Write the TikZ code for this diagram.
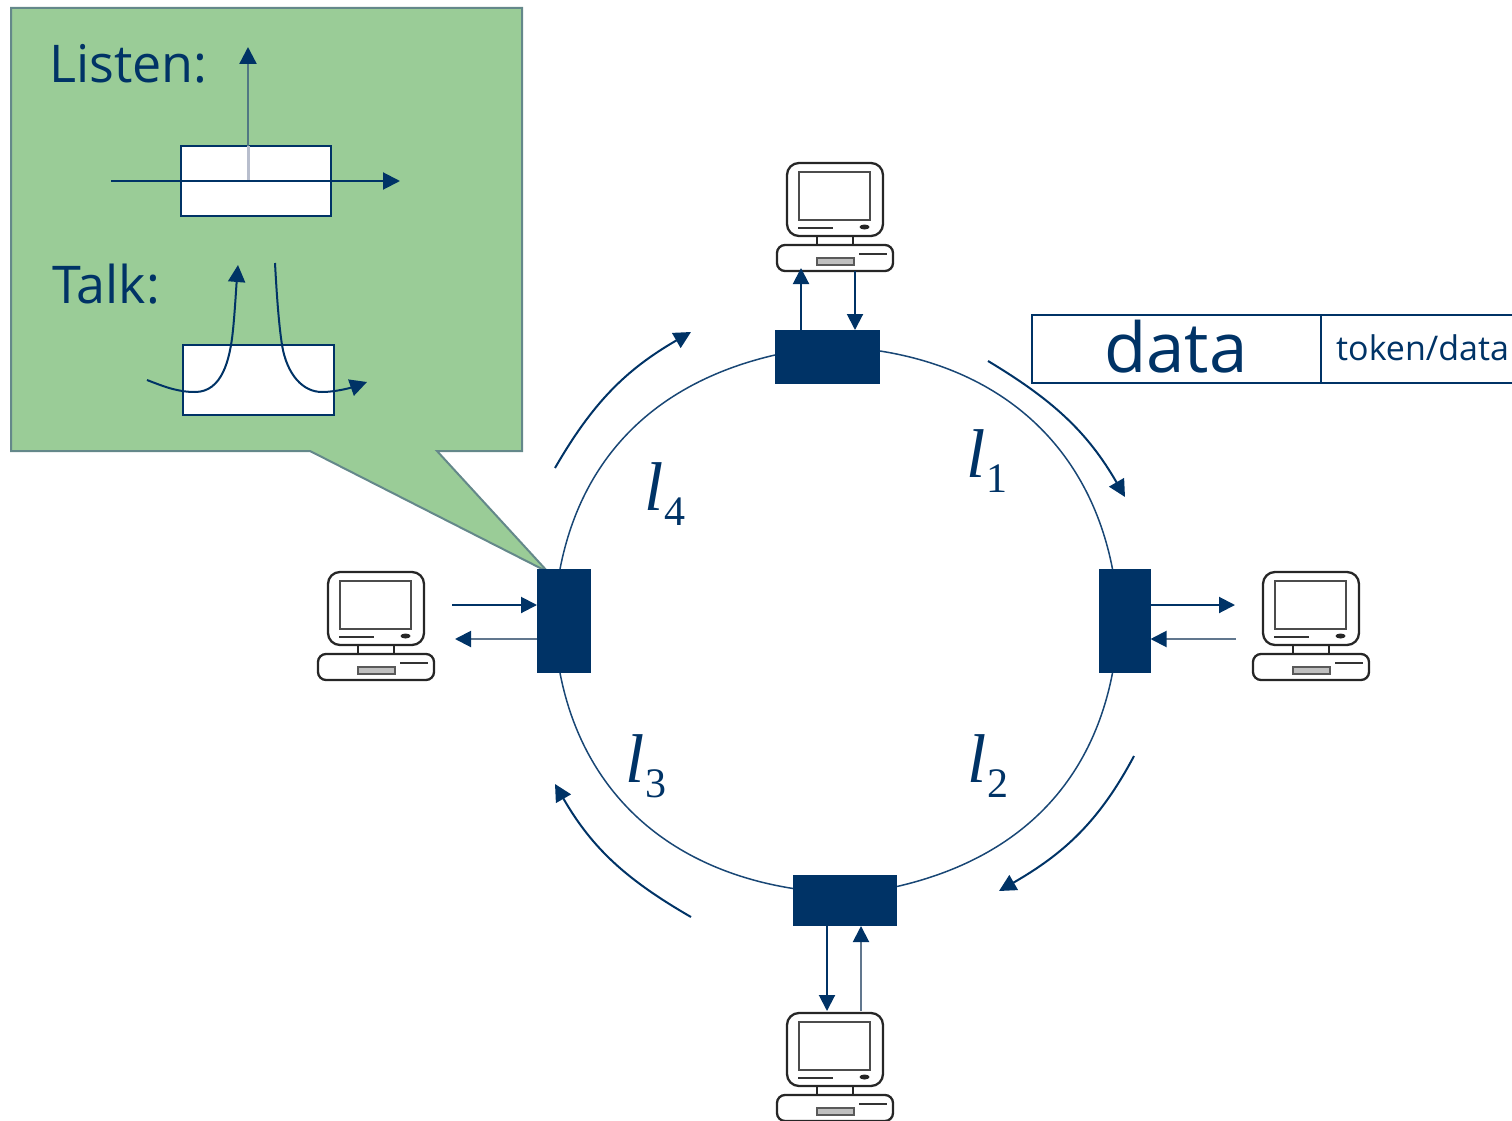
\documentclass[tikz,border=0pt]{standalone}
\usepackage{fontspec}
\setmainfont{Open Sans}
\newfontfamily\timesfont{Liberation Serif}
\usetikzlibrary{arrows.meta}
\definecolor{navy}{HTML}{003366}
\definecolor{calloutfill}{HTML}{9ACC97}
\definecolor{calloutedge}{HTML}{64888A}
\newcommand{\ringlabel}[2]{{\timesfont\color{navy}\fontsize{69}{69}\selectfont\textit{#1}\kern1pt\raisebox{-15pt}{\fontsize{42}{42}\selectfont #2}}}
\tikzset{
  x=1pt,y=1pt,
  link/.style={navy,line width=2pt,-{Triangle[length=16pt,width=16pt,color=navy]}},
  softlink/.style={link,draw=navy!55!gray!80},
  ringline/.style={navy!90,line width=1.5pt},
  flow/.style={navy,line width=2pt,-{Triangle[length=17pt,width=17pt,color=navy]}},
  port/.style={fill=navy,draw=none,minimum width=#1,inner sep=0pt,outer sep=0pt},
  cell/.style={draw=navy,line width=2pt,fill=white,inner sep=0pt,outer sep=0pt},
  caption/.style={text=navy,inner sep=0pt,anchor=base west},
  pcline/.style={black!85,line width=2.3pt},
  pics/computer/.style={code={
    \draw[pcline,rounded corners=12pt] (0,0) rectangle (96,-73);
    \draw[black!70,line width=2.2pt] (12,-9) rectangle (83,-57);
    \draw[black!80,line width=2pt] (11,-65) -- (46,-65);
    \fill[black!85] (77.5,-64) ellipse (5pt and 2.5pt);
    \draw[pcline] (30,-73) -- (30,-82) (66,-73) -- (66,-82);
    \draw[pcline,rounded corners=8pt] (-10,-82) rectangle (106,-108);
    \draw[black!80,line width=2pt] (72,-91) -- (100,-91);
    \draw[black!65,fill=black!25,line width=1.6pt] (30,-95) rectangle (67,-102);
  }}
}
\begin{document}
\begin{tikzpicture}
\useasboundingbox (0,0) rectangle (1512,-1121);

% Ring ports
\node[port=105pt,minimum height=54pt] (top) at (827.5,-357) {};
\node[port=52pt,minimum height=104pt] (right) at (1124.5,-621) {};
\node[port=104pt,minimum height=51pt] (bottom) at (845,-900.5) {};
\node[port=54pt,minimum height=104pt] (left) at (564,-621) {};

% Ring links
\draw[ringline] ([yshift=6pt]top.east) to[out=-9,in=101] ([xshift=-12pt]right.north);
\draw[ringline] ([xshift=-12pt]right.south) to[out=-101,in=13] ([yshift=14pt]bottom.east);
\draw[ringline] ([yshift=12pt]bottom.west) to[out=171,in=-79] ([xshift=-4pt]left.south);
\draw[ringline] ([xshift=-4pt]left.north) to[out=79,in=193] ([yshift=2pt]top.west);

% Callout
\coordinate (tip) at (548,-572);
\draw[calloutedge,fill=calloutfill,line width=2pt,line join=miter]
  (11,-8) -- (522,-8) -- (522,-451) -- (437,-451) -- (tip) -- (310,-451) -- (11,-451) -- cycle;
\node[port=54pt,minimum height=104pt] at (left.center) {};

\node[caption,font=\fontsize{52}{52}\selectfont] (listen) at (49,-83) {Listen:};
\node[caption,font=\fontsize{52}{52}\selectfont] (talk) at (52,-303) {Talk:};

% Listen box
\node[cell,minimum width=150pt,minimum height=70pt] (lbox) at (256,-181) {};
\coordinate (lin) at (111,-181);
\coordinate (lout) at (400,-181);
\coordinate (lup) at (248,-47);
\coordinate (lcore) at (248,-181);
\draw[color={rgb,255:red,184;green,190;blue,205},line width=3pt] (lbox.north -| lcore) -- (lcore);
\draw[flow,draw=calloutedge!80!navy,line width=2.4pt] (lbox.north -| lcore) -- (lup);
\draw[flow] (lin) -- (lout);

% Talk box
\node[cell,minimum width=151pt,minimum height=70pt] (tbox) at (258.5,-380) {};
\coordinate (tlin) at (147,-380);
\coordinate (tlout) at (238,-265);
\coordinate (trin) at (275,-263);
\coordinate (trout) at (367,-382);
\draw[flow] (tlin) .. controls (165,-387) and (178,-392) .. (195,-392)
  .. controls (222,-392) and (230,-360) .. (233,-330)
  .. controls (235,-310) and (236,-290) .. (tlout);
\draw[flow] (trin) .. controls (277,-300) and (279,-325) .. (282,-345)
  .. controls (287,-375) and (303,-392) .. (322,-392)
  .. controls (335,-392) and (350,-388) .. (trout);

% Frame cells
\node[cell,minimum width=289pt,minimum height=68pt] (datacell) at (1176.5,-349) {};
\node[cell,minimum width=200pt,minimum height=68pt,anchor=west] (tokencell) at (datacell.east) {};
\node[text=navy,inner sep=0pt,font=\fontsize{69}{69}\selectfont] (datatext) at (1176,-347) {data};
\node[caption,font=\fontsize{34}{34}\selectfont] (tokentext) at (1336,-360) {token/data};

% Computers
\pic (pctop) at (787,-163) {computer};
\coordinate (pctopa) at (801,-268);
\coordinate (pctopb) at (855,-271);
\pic (pcright) at (1263,-572) {computer};
\coordinate (pcrighta) at (1235,-605);
\coordinate (pcrightb) at (1236,-639);
\pic (pcbottom) at (787,-1013) {computer};
\coordinate (pcbottoma) at (827,-1011);
\coordinate (pcbottomb) at (861,-1011);
\pic (pcleft) at (328,-572) {computer};
\coordinate (pclefta) at (452,-605);
\coordinate (pcleftb) at (455,-639);

% Station links
\draw[link] (top.north -| pctopa) -- (pctopa);
\draw[link] (pctopb) -- (top.north -| pctopb);
\draw[link] (right.east |- pcrighta) -- (pcrighta);
\draw[softlink] (pcrightb) -- (right.east |- pcrightb);
\draw[link] (bottom.south -| pcbottoma) -- (pcbottoma);
\draw[softlink] (pcbottomb) -- (bottom.south -| pcbottomb);
\draw[link] (pclefta) -- (left.west |- pclefta);
\draw[softlink] (left.west |- pcleftb) -- (pcleftb);

% Direction arrows
\coordinate (a1s) at (988,-361); \coordinate (a1e) at (1125,-497);
\coordinate (a2s) at (1134,-756); \coordinate (a2e) at (999,-891);
\coordinate (a3s) at (691,-917); \coordinate (a3e) at (555,-784);
\coordinate (a4s) at (555,-468); \coordinate (a4e) at (691,-332);
\draw[flow] (a1s) to[out=-31,in=120] (a1e);
\draw[flow] (a2s) to[out=-118,in=30] (a2e);
\draw[flow] (a3s) to[out=150,in=-60] (a3e);
\draw[flow] (a4s) to[out=60,in=-150] (a4e);

% Link labels
\node[inner sep=0pt,anchor=base west] (l1) at (966,-477) {\ringlabel{l}{1}};
\node[inner sep=0pt,anchor=base west] (l2) at (967,-782) {\ringlabel{l}{2}};
\node[inner sep=0pt,anchor=base west] (l3) at (625,-782) {\ringlabel{l}{3}};
\node[inner sep=0pt,anchor=base west] (l4) at (644,-510) {\ringlabel{l}{4}};
\end{tikzpicture}
\end{document}
